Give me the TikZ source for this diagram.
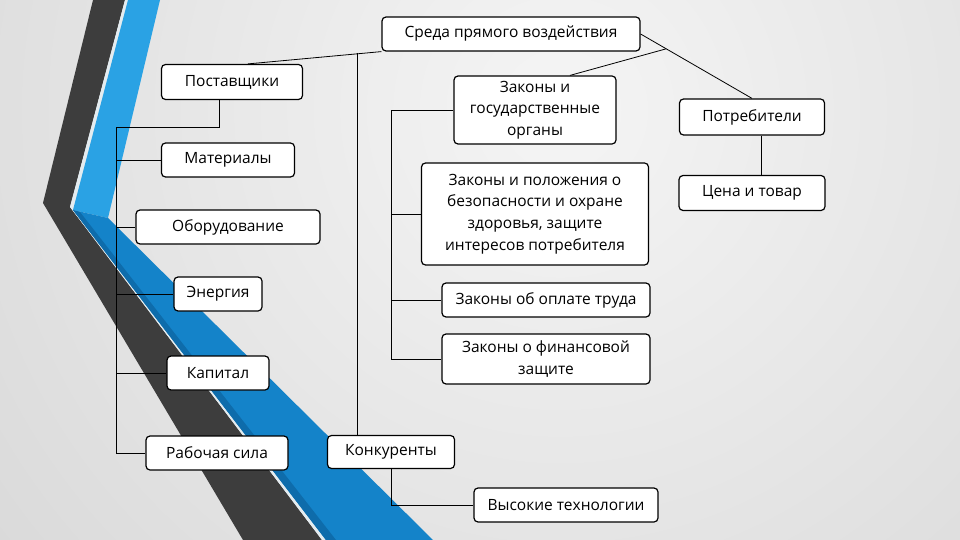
\documentclass[tikz,border=0pt]{standalone}
\usepackage{fontspec}
\setmainfont{Open Sans}
\usetikzlibrary{calc}
\definecolor{bandgrey}{HTML}{3D3D3D}
\definecolor{bandblue}{HTML}{2AA2E4}
\definecolor{deepblue}{HTML}{1483C9}
\definecolor{edgeblue}{HTML}{0E6CAB}
\definecolor{paleline}{HTML}{E4ECF0}
\begin{document}
\begin{tikzpicture}[x=1pt,y=-1pt,
  box/.style={draw=black,line width=1.2pt,fill=white,rounded corners=4pt,
    inner sep=2pt,align=center,font=\fontsize{15.5}{21.7}\selectfont},
  link/.style={draw=black,line width=.8pt}]
\useasboundingbox (0,0) rectangle (960,540);
\begin{scope}
\clip (0,0) rectangle (960,540);
\shade[inner color=gray!8,outer color=gray!42] (560,110) circle[radius=1150pt];
\end{scope}
% chevron bands
\fill[bandgrey] (93,0) -- (125,0) -- (70,207) -- (322,540) -- (243,540) -- (43,203) -- cycle;
\fill[paleline] (125,0) -- (128,0) -- (73,210) -- (326,540) -- (322,540) -- (70,207) -- cycle;
\fill[bandblue] (128,0) -- (160,0) -- (108,218) -- (73,210) -- cycle;
\fill[deepblue] (73,210) -- (108,218) -- (433,540) -- (326,540) -- cycle;
\fill[edgeblue] (73,210) -- (80,212) -- (336,540) -- (326,540) -- cycle;

% boxes
\node[box,minimum width=258pt,minimum height=34pt] (sreda) at (511,34) {Среда прямого воздействия};
\node[box,minimum width=141pt,minimum height=35pt] (post) at (232,82) {Поставщики};
\node[box,minimum width=133pt,minimum height=34pt] (mat) at (228,160) {Материалы};
\node[box,minimum width=184pt,minimum height=34pt] (obor) at (228,227) {Оборудование};
\node[box,minimum width=88pt,minimum height=34pt] (energ) at (218,294) {Энергия};
\node[box,minimum width=102pt,minimum height=34pt] (kap) at (218,373) {Капитал};
\node[box,minimum width=142pt,minimum height=34pt] (rab) at (217,453) {Рабочая сила};
\node[box,minimum width=127pt,minimum height=33pt] (konk) at (391,452) {Конкуренты};
\node[box,minimum width=184pt,minimum height=34pt] (vys) at (566,505) {Высокие технологии};
\node[box,minimum width=162pt,minimum height=68pt] (zgos) at (535,110) {Законы и\\государственные\\органы};
\node[box,minimum width=227pt,minimum height=102pt] (zpol) at (535,214) {Законы и положения о\\безопасности и охране\\здоровья, защите\\интересов потребителя};
\node[box,minimum width=208pt,minimum height=34pt] (zopl) at (546,300) {Законы об оплате труда};
\node[box,minimum width=208pt,minimum height=50pt] (zfin) at (546,359) {Законы о финансовой\\защите};
\node[box,minimum width=145pt,minimum height=36pt] (potr) at (752,117) {Потребители};
\node[box,minimum width=146pt,minimum height=35pt] (tsena) at (752,193) {Цена и товар};

% links
\coordinate (ktop) at (357,53);
\coordinate (strunk) at (116,127);
\coordinate (ztrunk) at (391,110);
\coordinate (rfork) at ($(sreda.east)!.23!(potr.north)$);
\draw[link] (sreda.south west) -- ([xshift=16pt]post.north);
\draw[link] (ktop) -- (ktop |- konk.north);
\draw[link] (sreda.east) -- (potr.north);
\draw[link] (rfork) -- ([xshift=35pt]zgos.north);
\draw[link] ([xshift=9pt]potr.south) -- ([xshift=9pt]tsena.north);
\draw[link] ([xshift=-13pt]post.south) |- (strunk) -- (strunk |- rab.west) -- (rab.west);
\foreach \n in {mat,obor,energ,kap}
  \draw[link] (strunk |- \n.west) -- (\n.west);
\draw[link] (zgos.west) -- (ztrunk) -- (ztrunk |- zfin.west) -- (zfin.west);
\foreach \n in {zpol,zopl}
  \draw[link] (ztrunk |- \n.west) -- (\n.west);
\draw[link] (konk.south) |- (vys.west);
\end{tikzpicture}
\end{document}
